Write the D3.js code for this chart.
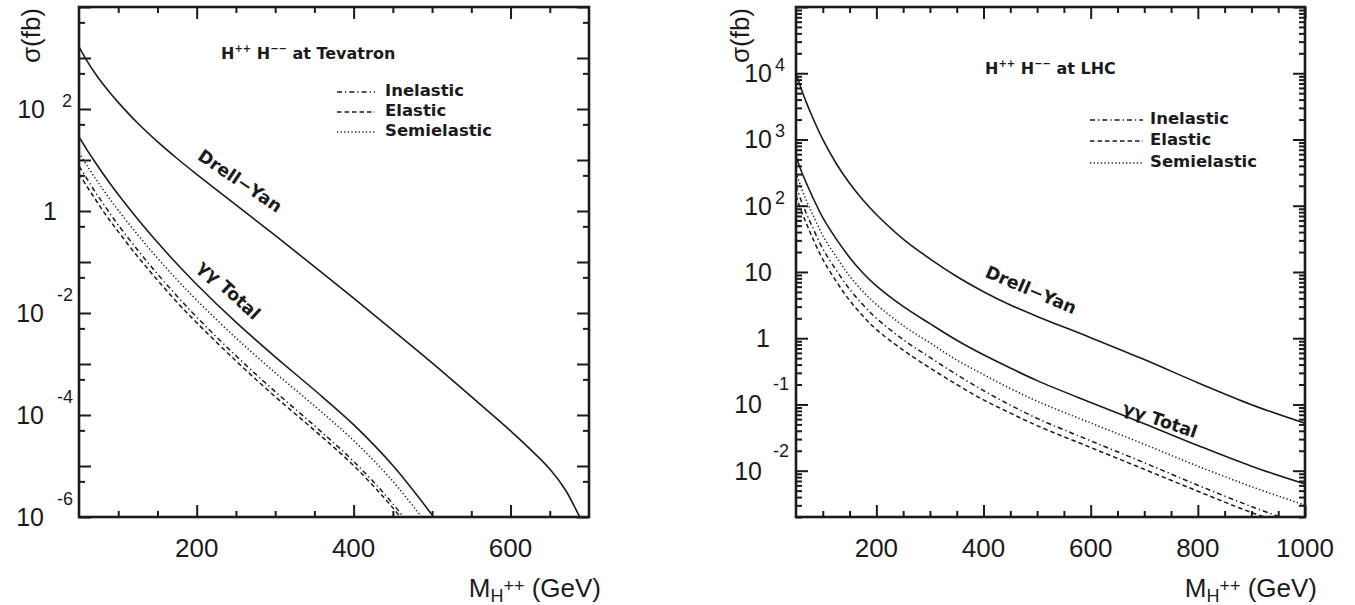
<!DOCTYPE html>
<html><head><meta charset="utf-8">
<script src="https://cdn.jsdelivr.net/npm/d3@7"></script>
<style>body{margin:0;background:#fff}svg{display:block}</style>
</head><body>
<svg id="c" width="1355" height="605"></svg>
<script>
// ---------- data (sigma in fb vs M_H++ in GeV) ----------
const tevMass     = [50,60,70,80,90,100,125,150,175,200,250,300,350,400,450,500];
const tevDYMass   = [50,60,70,80,90,100,125,150,175,200,250,300,350,400,450,500,550,600,625,650,670,686,695];
const tevDrellYan = [1660,891,513,316,204,135,52.5,22.9,10.7,5.25,1.32,0.331,0.0813,0.0195,4.57e-3,1.05e-3,2.29e-4,4.90e-5,2.14e-5,8.71e-6,3.39e-6,1.17e-6,6.31e-7];
const tevTotal    = [28.2,16.0,9.33,5.56,3.39,2.11,0.692,0.243,0.0912,0.0363,6.61e-3,1.38e-3,3.09e-4,6.46e-5,1.02e-5,1.10e-6];
const tevSemi     = [13.8,7.85,4.57,2.72,1.66,1.035,0.339,0.119,0.0447,0.0178,3.24e-3,6.76e-4,1.51e-4,3.16e-5,5.01e-6,5.37e-7];
const tevInel     = [7.59,4.32,2.45,1.46,0.871,0.531,0.170,0.0582,0.0214,8.32e-3,1.45e-3,2.88e-4,6.17e-5,1.23e-5,1.82e-6,1.74e-7];
const tevEl       = [5.37,3.05,1.78,1.035,0.631,0.394,0.126,0.0442,0.0162,6.46e-3,1.15e-3,2.29e-4,5.01e-5,1.02e-5,1.51e-6,1.51e-7];

const lhcMass     = [50,60,70,80,100,125,150,175,200,250,300,350,400,450,500,600,700,800,900,1000];
const lhcDrellYan = [10000,5750,3510,2240,1000,434,218,122,73.7,31.4,15.8,8.56,5.04,3.18,2.13,1.02,0.476,0.213,0.0994,0.0522];
const lhcTotal    = [562,331,214,141,66.1,31.6,16.6,9.66,6.17,3.02,1.66,0.933,0.562,0.355,0.229,0.107,0.0513,0.0240,0.0117,6.31e-3];
const lhcSemi     = [316,186,117,77.6,35.5,17.0,8.71,5.07,3.24,1.55,0.851,0.468,0.282,0.174,0.112,0.0525,0.0251,0.0117,5.75e-3,3.02e-3];
const lhcInel     = [200,117,74.1,49.0,22.4,10.7,5.50,3.20,2.00,0.955,0.513,0.282,0.162,0.0977,0.0617,0.0282,0.0132,6.03e-3,2.88e-3,1.48e-3];
const lhcEl       = [141,83.2,52.5,33.9,15.5,7.24,3.72,2.16,1.35,0.661,0.355,0.200,0.117,0.0741,0.0479,0.0224,0.0105,4.90e-3,2.34e-3,1.23e-3];

const tevXTicks = [200,400,600];
const lhcXTicks = [200,400,600,800,1000];
const tevYLabelExp = [-6,-4,-2,0,2];
const lhcYLabelExp = [-2,-1,0,1,2,3,4];
const legendNames = ["Inelastic","Elastic","Semielastic"];
const xTitle = ["M","H","++"," (GeV)"];
const yTitle = "σ(fb)";

// ---------- drawing ----------
const svg = d3.select("#c");
const INK = "#1b1b1b";
const TICKF = "'Liberation Sans', Arial, sans-serif";
const BOLDF = "'DejaVu Sans', sans-serif";
const DASH = {solid:null, semi:"1.3,2.3", inel:"5,3,1.3,3", el:"4.5,3"};

function panel(cfg){
  const g = svg.append("g");
  const x = cfg.x, y = cfg.y;
  const [x0,x1] = x.range(), [yb,yt] = y.range();
  g.append("clipPath").attr("id",cfg.id).append("rect")
    .attr("x",x0).attr("y",yt).attr("width",x1-x0).attr("height",yb-yt);
  const line = d3.line().x(d=>x(d[0])).y(d=>y(d[1])).curve(d3.curveCatmullRom.alpha(0.5));
  cfg.series.forEach(s=>{
    g.append("path").datum(d3.zip(s.m,s.v)).attr("d",line)
      .attr("fill","none").attr("stroke",INK).attr("stroke-width",s.w||1.5)
      .attr("stroke-dasharray",DASH[s.dash]).attr("clip-path",`url(#${cfg.id})`);
  });
  const mk = (axisFn, scale, vals, size, tr) => {
    const a = g.append("g").attr("transform",tr)
      .call(axisFn(scale).tickValues(vals).tickSize(-size).tickFormat(""));
    a.select(".domain").remove();
    a.selectAll("line").attr("stroke",INK).attr("stroke-width",2);
  };
  mk(d3.axisBottom,x,cfg.xMajor,12,`translate(0,${yb})`);
  mk(d3.axisBottom,x,cfg.xMinor,6,`translate(0,${yb})`);
  mk(d3.axisTop,x,cfg.xMajor,12,`translate(0,${yt})`);
  mk(d3.axisTop,x,cfg.xMinor,6,`translate(0,${yt})`);
  mk(d3.axisLeft,y,cfg.yMajor,12,`translate(${x0},0)`);
  mk(d3.axisLeft,y,cfg.yMinor,6,`translate(${x0},0)`);
  mk(d3.axisRight,y,cfg.yMajor,12,`translate(${x1},0)`);
  mk(d3.axisRight,y,cfg.yMinor,6,`translate(${x1},0)`);
  g.append("rect").attr("x",x0).attr("y",yt).attr("width",x1-x0).attr("height",yb-yt)
    .attr("fill","none").attr("stroke",INK).attr("stroke-width",2.6);
  g.selectAll(".xl").data(cfg.xLabels).join("text")
    .attr("x",d=>x(d)).attr("y",557).attr("text-anchor","middle")
    .attr("font-family",TICKF).attr("font-size",26).attr("fill",INK).text(d=>d);
  const L = cfg.lab;
  cfg.yLabels.forEach(e=>{
    const ty = y(Math.pow(10,e));
    const t = (xx,yy,anchor,size,str)=>g.append("text").attr("x",xx).attr("y",yy)
      .attr("text-anchor",anchor).attr("font-family",TICKF).attr("font-size",size)
      .attr("fill",INK).text(str);
    if(e===0){ t(L.oneX,ty+9,L.oneAnchor,25,"1"); }
    else if(e===1){ t(L.tenEnd,ty+9,"end",25,"10"); }
    else if(e>0){ t(L.tenEnd,ty+9,"end",25,"10"); t(L.expPos,ty-2,"start",18,String(e)); }
    else { t(L.tenEndNeg,ty+9,"end",25,"10"); t(L.expNeg,ty-L.negRaise,"start",18,String(e)); }
  });
  g.append("text").attr("transform",`translate(${cfg.yTitleX},${yt+1}) rotate(-90)`)
    .attr("text-anchor","end").attr("font-family",TICKF).attr("font-size",26).attr("fill",INK).text(yTitle);
  const xt = g.append("text").attr("x",x1+12).attr("y",597).attr("text-anchor","end")
    .attr("font-family",TICKF).attr("fill",INK);
  xt.append("tspan").attr("font-size",26).text(xTitle[0]);
  xt.append("tspan").attr("font-size",18).attr("dy",5).text(xTitle[1]);
  xt.append("tspan").attr("font-size",18).attr("dy",-10).text(xTitle[2]);
  xt.append("tspan").attr("font-size",26).attr("dy",5).text(xTitle[3]);
  const an = g.append("text").attr("x",cfg.ann[0]).attr("y",cfg.ann[1])
    .attr("font-family",BOLDF).attr("font-weight","bold").attr("font-size",16).attr("fill",INK);
  an.append("tspan").text("H");
  an.append("tspan").attr("font-size",10).attr("dy",-7).text("++");
  an.append("tspan").attr("dy",7).text(" H");
  an.append("tspan").attr("font-size",10).attr("dy",-7).text("−−");
  an.append("tspan").attr("dy",7).text(" at " + cfg.collider);
  const lg = cfg.legend;
  legendNames.forEach((nm,i)=>{
    const ly = lg.y[i];
    g.append("line").attr("x1",lg.x1).attr("x2",lg.x2).attr("y1",ly-4).attr("y2",ly-4)
      .attr("stroke",INK).attr("stroke-width",1.4).attr("stroke-dasharray",DASH[["inel","el","semi"][i]]);
    g.append("text").attr("x",lg.tx).attr("y",ly).attr("font-family",BOLDF)
      .attr("font-weight","bold").attr("font-size",16.5).attr("fill",INK).text(nm);
  });
  cfg.curveLabels.forEach(c=>{
    g.append("text").attr("transform",`translate(${c.x},${c.y}) rotate(${c.a})`)
      .attr("text-anchor","middle").attr("dominant-baseline","central")
      .attr("font-family",BOLDF).attr("font-weight","bold").attr("font-size",17.5)
      .attr("fill",INK).text(c.t);
  });
}

const dec = (a,b)=>d3.range(a,b+1);
panel({
  id:"tevclip", collider:"Tevatron",
  x:d3.scaleLinear([50,700],[79,589]),
  y:d3.scaleLog([1e-6,1e4],[517,7]),
  xMajor:tevXTicks, xMinor:d3.range(100,700,50).filter(v=>!tevXTicks.includes(v)),
  yMajor:dec(-6,4).map(e=>Math.pow(10,e)),
  yMinor:dec(-6,3).map(e=>5*Math.pow(10,e)),
  xLabels:tevXTicks, yLabels:tevYLabelExp,
  lab:{oneX:50,oneAnchor:"middle",tenEnd:45,tenEndNeg:44,expPos:62,expNeg:57,negRaise:12},
  yTitleX:40,
  ann:[221,59],
  legend:{x1:337,x2:375,tx:385,y:[96,116,136]},
  series:[
    {m:tevDYMass,v:tevDrellYan,dash:"solid",w:1.6},
    {m:tevMass,v:tevTotal,dash:"solid",w:1.6},
    {m:tevMass,v:tevSemi,dash:"semi"},
    {m:tevMass,v:tevInel,dash:"inel"},
    {m:tevMass,v:tevEl,dash:"el"}
  ],
  curveLabels:[{t:"Drell−Yan",x:240,y:181,a:34},{t:"γγ Total",x:229,y:290,a:43}]
});
panel({
  id:"lhcclip", collider:"LHC",
  x:d3.scaleLinear([50,1000],[796,1305]),
  y:d3.scaleLog([2e-3,1e5],[517,7]),
  xMajor:lhcXTicks, xMinor:d3.range(100,1000,50).filter(v=>!lhcXTicks.includes(v)),
  yMajor:dec(-2,5).map(e=>Math.pow(10,e)),
  yMinor:dec(-3,4).flatMap(e=>d3.range(2,10).map(k=>k*Math.pow(10,e))).filter(v=>v>=2e-3&&v<=1e5),
  xLabels:lhcXTicks, yLabels:lhcYLabelExp,
  lab:{oneX:770,oneAnchor:"end",tenEnd:772,tenEndNeg:762,expPos:775,expNeg:773,negRaise:14},
  yTitleX:749,
  ann:[985,74],
  legend:{x1:1090,x2:1143,tx:1150,y:[124,145,167]},
  series:[
    {m:lhcMass,v:lhcDrellYan,dash:"solid",w:1.6},
    {m:lhcMass,v:lhcTotal,dash:"solid",w:1.6},
    {m:lhcMass,v:lhcSemi,dash:"semi"},
    {m:lhcMass,v:lhcInel,dash:"inel"},
    {m:lhcMass,v:lhcEl,dash:"el"}
  ],
  curveLabels:[{t:"Drell−Yan",x:1031,y:290,a:23},{t:"γγ Total",x:1160,y:420,a:19}]
});
</script>
</body></html>
